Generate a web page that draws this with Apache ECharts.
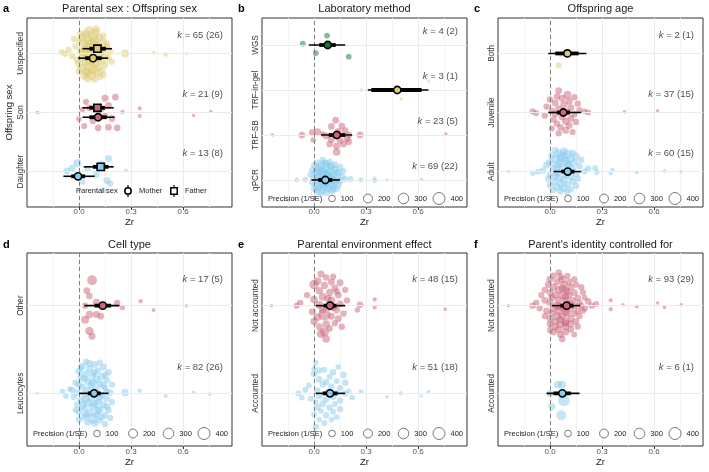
<!DOCTYPE html>
<html lang="en">
<head>
<meta charset="UTF-8">
<title>Orchard plots</title>
<script src="https://cdn.jsdelivr.net/npm/echarts@6.0.0/dist/echarts.min.js"></script>
</head>
<body style="margin:0; background:#fff">
<div id="main" style="width:709px;height:472px"></div>
<script type="text/javascript">
var BLUE = '#88CCEE', ROSE = '#CC6677', SAND = '#DDCC77', GREEN = '#117733';
var FONT = "'Liberation Sans', Arial, Helvetica, sans-serif";

// each point: [Zr, jitter around category, precision (1/SE)]
// a: parental sex : offspring sex
var catsSex = ['Daughter', 'Son', 'Unspecified'];
var kSex = [[13, 8], [21, 9], [65, 26]];
var ptsDaughter = [[-0.01,0.14,160],[-0.07,0.01,110],[-0.04,0.06,100],[0.17,0.22,110],[0.13,0.12,120],[0.27,0.02,20],[0.05,0.04,90],[0.16,-0.15,110],[0.18,-0.2,90],[0.14,-0.32,80],[0.02,-0.17,80],[0.00,-0.1,90],[0.1,-0.05,90]];
var ptsSon = [[-0.24,0.0,15],[0.76,0.02,10],[0.66,-0.05,15],[0.35,0.07,25],[0.35,-0.06,25],[0.25,0.01,30],[0.21,0.26,100],[0.15,0.24,110],[0.22,-0.26,100],[0.17,-0.25,100],[0.11,-0.26,100],[0.03,-0.23,80],[0.00,-0.11,60],[0.06,0.08,100],[0.13,0.06,80],[0.04,0.18,80],[0.17,0.12,100],[0.02,0.05,60],[0.19,-0.10,100],[0.08,-0.14,100],[0.15,-0.05,80]];
var ptsUnspecified = [[0.06,0.38,270],[0.10,0.36,140],[0.04,0.33,180],[0.08,0.31,370],[0.02,0.28,150],[0.12,0.27,120],[0.05,0.24,240],[0.00,0.22,110],[0.09,0.21,330],[0.14,0.19,140],
  [0.03,0.17,210],[0.07,0.15,420],[0.11,0.13,170],[-0.02,0.12,90],[0.16,0.11,110],[0.04,0.09,300],[0.13,0.07,150],[-0.06,0.06,90],[0.09,0.05,230],[0.01,0.04,140],
  [0.18,0.03,90],[-0.10,0.02,70],[-0.08,-0.01,70],[0.265,0.0,150],[0.43,0.01,20],[0.50,-0.02,35],[0.62,0.0,12],[0.06,-0.02,380],[0.15,-0.03,120],[-0.04,-0.04,100],
  [0.02,-0.06,200],[0.11,-0.07,270],[0.17,-0.08,90],[0.07,-0.10,360],[-0.01,-0.11,120],[0.13,-0.12,150],[0.04,-0.14,230],[0.09,-0.16,300],[0.00,-0.18,140],[0.15,-0.19,110],
  [0.06,-0.21,400],[0.11,-0.23,180],[0.02,-0.25,170],[0.08,-0.27,260],[0.13,-0.29,120],[0.04,-0.31,210],[0.10,-0.33,150],[0.07,-0.36,300],[0.03,-0.38,140],[0.12,-0.40,110],
  [0.05,-0.42,180],[0.01,0.33,120],[0.14,0.30,90],[0.06,0.10,270],[0.10,0.42,110],[0.03,0.02,240],[0.12,0.00,210],[0.08,0.18,290],[0.16,0.16,90],[-0.03,0.25,80],
  [0.05,-0.32,170],[0.09,-0.44,90],[0.14,-0.36,90],[0.00,-0.30,110],[0.19,-0.14,80]];
// [estimate, CI low, CI high, PI low, PI high] per category
var meansMother = [[-0.006,-0.045,0.035,-0.09,0.09],[0.11,0.06,0.16,0.02,0.205],[0.081,0.035,0.13,-0.005,0.168]];
var meansFather = [[0.125,0.08,0.17,0.027,0.2],[0.106,0.06,0.15,0.02,0.2],[0.106,0.06,0.155,0.02,0.19]];

// b: laboratory method
var catsMethod = ['qPCR', 'TRF-SB', 'TRF-in-gel', 'WGS'];
var kMethod = [[69, 22], [23, 5], [3, 1], [4, 2]];
var ptsQPCR = [[-0.1,0.0,40],[-0.05,0.01,60],[0.27,0.0,40],[0.35,0.03,30],[0.35,-0.02,30],[0.42,0.0,18],[0.62,0.01,18],[0.21,0.02,80],
  [0.05,0.44,100],[0.09,0.41,80],[0.02,0.38,100],[0.07,0.36,130],[0.12,0.34,100],[0.00,0.33,80],[0.04,0.31,160],[0.10,0.29,130],[0.15,0.28,100],[0.02,0.26,110],
  [0.07,0.25,240],[0.12,0.23,140],[-0.01,0.22,100],[0.05,0.20,190],[0.17,0.20,80],[0.09,0.18,160],[0.02,0.16,130],[0.14,0.15,110],[0.06,0.13,320],[-0.02,0.12,80],
  [0.11,0.11,140],[0.03,0.09,160],[0.16,0.08,100],[0.08,0.07,220],[0.00,0.05,130],[0.13,0.04,130],[0.05,0.03,240],[0.18,0.02,80],[0.10,0.01,160],[0.02,-0.01,140],
  [0.15,-0.02,100],[0.07,-0.03,290],[-0.01,-0.05,100],[0.12,-0.06,130],[0.04,-0.07,180],[0.09,-0.09,190],[0.01,-0.11,110],[0.14,-0.11,100],[0.06,-0.13,210],[0.11,-0.15,130],
  [0.03,-0.16,140],[0.08,-0.18,160],[0.00,-0.19,100],[0.13,-0.2,100],[0.05,-0.22,140],[0.10,-0.24,110],[0.02,-0.26,100],[0.07,-0.28,130],[0.04,-0.3,80],[0.09,0.32,100],
  [0.01,0.19,100],[0.13,0.17,100],[0.10,0.06,130],[0.04,0.15,140],[0.06,-0.09,160],[0.12,-0.01,130],[0.03,0.27,110],[0.08,0.1,190],[0.11,-0.21,100],[0.02,-0.21,100],[0.06,0.39,80]];
var ptsTRFSB = [[-0.24,0.0,15],[0.76,0.02,15],[-0.07,0.0,100],[-0.01,0.06,100],[-0.005,-0.11,60],[0.02,0.07,110],[0.265,0.0,110],[0.125,0.33,110],[0.1,0.19,100],[0.16,0.2,100],[0.14,0.08,110],[0.18,0.1,100],[0.2,0.0,100],[0.19,-0.08,100],[0.07,-0.02,100],[0.1,-0.1,110],[0.13,-0.25,110],[0.13,-0.38,130],[0.17,-0.2,110],[0.09,-0.2,100],[0.2,-0.15,100],[0.15,-0.12,100],[0.05,0.02,60]];
var ptsTRFgel = [[0.272,0.0,15],[0.66,0.2,15],[0.503,-0.2,18]];
var ptsWGS = [[0.075,0.21,70],[-0.065,0.03,70],[0.01,-0.18,70],[0.2,-0.26,70]];
var meansMethod = [[0.065,0.025,0.105,-0.015,0.15],[0.131,0.085,0.18,0.04,0.22],[0.48,0.33,0.62,0.31,0.66],[0.079,0.03,0.125,-0.03,0.18]];

// c: offspring age
var catsAge = ['Adult', 'Juvenile', 'Both'];
var kAge = [[60, 15], [37, 15], [2, 1]];
var ptsAdult = [[-0.24,0,15],[-0.07,0.0,70],[-0.1,-0.03,60],[0.26,0.06,70],[0.27,-0.01,60],[0.36,0.03,30],[0.35,-0.03,30],[0.5,-0.01,25],[0.66,0.01,20],[0.755,0.0,18],[0.22,0.05,90],
  [0.03,0.36,110],[0.08,0.34,150],[0.13,0.32,90],[0.05,0.30,180],[0.10,0.29,240],[0.01,0.27,110],[0.15,0.26,120],[0.07,0.25,300],[0.12,0.22,150],[0.03,0.21,140],
  [0.18,0.2,90],[0.09,0.18,180],[0.00,0.16,120],[0.14,0.15,140],[0.05,0.13,150],[-0.02,0.11,110],[0.11,0.10,120],[0.17,0.09,90],[0.07,0.07,150],[0.02,0.05,120],
  [0.13,0.04,110],[-0.04,0.02,90],[0.2,0.0,80],[0.04,-0.02,140],[0.15,-0.04,110],[0.00,-0.06,110],[0.09,-0.06,140],[0.12,-0.09,120],[0.05,-0.10,150],[-0.01,-0.12,90],
  [0.16,-0.12,90],[0.08,-0.14,140],[0.02,-0.17,120],[0.13,-0.17,110],[0.06,-0.2,150],[0.10,-0.22,110],[0.00,-0.23,90],[0.15,-0.24,90],[0.04,-0.26,120],[0.08,-0.28,140],
  [0.12,-0.3,90],[0.02,-0.31,90],[0.06,-0.33,110],[0.10,-0.35,90],[0.04,0.09,170],[0.1,0.13,140],[0.06,0.22,140],[0.11,-0.02,120],[0.03,-0.08,120]];
var ptsJuvenile = [[0.43,0.01,18],[0.62,0.03,14],[-0.1,0.02,80],[-0.08,-0.01,80],[0.22,0.0,80],[0.2,0.02,60],
  [0.05,0.37,110],[0.1,0.3,150],[0.04,0.27,90],[0.14,0.26,90],[0.07,0.24,120],[0.0,0.22,90],[0.11,0.19,110],[0.03,0.16,110],[0.16,0.15,90],[0.08,0.13,120],[-0.02,0.1,90],[0.12,0.08,110],[0.05,0.06,120],[0.17,0.04,90],[0.01,0.03,90],[0.1,0.01,110],
  [0.03,-0.02,110],[0.14,-0.03,90],[-0.03,-0.05,90],[0.07,-0.07,120],[0.12,-0.1,110],[0.02,-0.12,90],[0.09,-0.15,120],[0.15,-0.16,90],[0.04,-0.19,90],[0.11,-0.22,110],[0.06,-0.25,90],[0.01,-0.27,80],[0.09,-0.3,110],[0.05,-0.35,90],[0.13,-0.33,80]];
var ptsBoth = [[0.05,-0.2,80],[0.06,-0.02,40]];
var meansAge = [[0.102,0.065,0.14,0.02,0.18],[0.077,0.04,0.115,-0.01,0.18],[0.1,0.03,0.165,-0.01,0.21]];

// d: cell type
var catsCell = ['Leucocytes', 'Other'];
var kCell = [[82, 26], [17, 5]];
var ptsLeucocytes = [[-0.24,0,15],[-0.095,0.02,70],[-0.075,-0.03,70],[-0.055,0.05,60],[0.265,0.01,130],[0.35,0.03,30],[0.5,-0.03,25],[0.66,0.01,20],[0.755,-0.01,18],
  [0.04,0.36,90],[0.09,0.33,110],[0.02,0.31,90],[0.14,0.30,110],[0.06,0.28,120],[0.11,0.26,90],[0.00,0.25,110],[0.17,0.24,90],[0.04,0.22,140],[0.08,0.21,110],
  [0.13,0.19,120],[0.01,0.18,90],[0.10,0.16,140],[0.16,0.15,90],[0.05,0.14,150],[-0.02,0.12,90],[0.12,0.11,110],[0.19,0.10,90],[0.07,0.09,120],[0.02,0.07,110],
  [0.15,0.06,90],[-0.04,0.04,90],[0.10,0.04,140],[0.18,0.01,90],[0.03,-0.01,120],[0.13,-0.02,110],[-0.03,-0.04,90],[0.07,-0.05,150],[0.16,-0.06,90],[0.01,-0.08,110],
  [0.11,-0.09,120],[0.05,-0.11,140],[0.19,-0.10,80],[-0.01,-0.13,90],[0.14,-0.13,110],[0.08,-0.15,180],[0.03,-0.17,110],[0.12,-0.18,120],[0.17,-0.19,90],[0.00,-0.21,90],
  [0.06,-0.22,150],[0.10,-0.24,110],[0.15,-0.25,90],[0.03,-0.27,120],[0.08,-0.29,260],[0.12,-0.31,90],[0.05,-0.33,110],[0.15,-0.35,80],
  [0.06,0.34,110],[0.12,0.35,80],[0.01,0.29,80],[0.09,0.24,120],[0.15,0.21,90],[0.03,0.17,110],[0.08,0.12,170],[0.14,0.09,120],[0.00,0.10,110],[0.05,0.03,180],
  [0.09,0.00,140],[0.16,0.02,90],[-0.01,0.01,90],[0.12,-0.05,120],[0.04,-0.07,140],[0.09,-0.12,140],[0.16,-0.15,90],[0.02,-0.14,120],[0.11,-0.20,140],[-0.02,-0.19,80],
  [0.04,-0.24,120],[0.13,-0.27,90],[0.00,-0.30,90],[0.09,-0.34,110],[0.18,-0.28,80]];
var ptsOtherCell = [[0.075,0.29,260],[0.045,0.17,100],[0.06,0.11,100],[0.1,0.04,110],[0.035,0.0,80],[0.22,0.03,90],[0.25,-0.02,60],[0.355,0.05,30],[0.43,-0.05,25],[0.62,0.0,15],[0.035,-0.16,150],[0.06,-0.1,130],[0.1,-0.1,110],[0.125,-0.12,100],[0.06,-0.29,180],[0.075,-0.35,110],[0.14,0.0,60]];
var meansCell = [[0.087,0.05,0.125,0.0,0.17],[0.137,0.09,0.185,0.03,0.233]];

// e: parental environment effect
var catsEnv = ['Accounted', 'Not accounted'];
var kEnv = [[51, 18], [48, 15]];
var ptsEnvAcc = [[0.27,0.02,40],[0.42,-0.04,18],[0.5,0.0,25],[0.62,-0.03,14],[0.66,0.02,18],[-0.09,0.0,70],[-0.07,-0.05,60],[0.2,0.02,60],[0.22,-0.05,60],
  [0.01,0.35,60],[0.03,0.26,90],[0.0,0.22,90],[0.06,0.27,70],[0.11,0.24,90],[0.17,0.21,90],[0.03,0.16,100],[0.13,0.14,70],[0.18,0.12,90],[-0.03,0.09,70],
  [0.05,0.1,90],[0.1,0.08,90],[0.15,0.06,90],[-0.05,0.04,70],[0.02,0.03,90],[0.08,0.02,90],[0.18,0.0,90],[0.13,0.0,70],[0.03,-0.03,90],[0.11,-0.04,90],
  [-0.02,-0.06,70],[0.07,-0.07,90],[0.15,-0.08,90],[0.01,-0.1,60],[0.05,-0.12,100],[0.12,-0.12,70],[0.02,-0.16,90],[0.09,-0.16,90],[0.15,-0.18,90],[0.04,-0.2,60],
  [0.11,-0.21,70],[0.0,-0.24,70],[0.07,-0.25,90],[0.13,-0.27,70],[0.03,-0.3,60],[0.06,-0.34,70],[0.01,-0.38,90],[0.09,0.19,70],[0.07,0.13,90],[0.0,0.28,60],
  [0.14,0.3,60],[0.1,-0.3,60]];
var ptsEnvNot = [[-0.245,0.0,15],[0.265,0.01,100],[0.25,-0.05,60],[0.35,0.07,30],[0.35,-0.02,30],[0.757,-0.04,18],
  [0.04,0.36,110],[0.07,0.32,90],[0.02,0.28,150],[0.1,0.27,110],[0.15,0.26,110],[0.0,0.24,230],[0.06,0.23,120],[0.12,0.2,110],[0.18,0.18,90],[0.03,0.17,140],
  [0.09,0.15,120],[-0.04,0.12,90],[0.14,0.12,110],[0.05,0.1,150],[0.19,0.06,90],[0.0,0.07,140],[0.1,0.06,150],[-0.08,0.03,90],[0.15,0.02,110],[0.03,0.01,150],
  [-0.1,0.0,80],[0.06,-0.1,420],[0.13,-0.05,110],[-0.01,-0.07,110],[0.17,-0.09,90],[0.02,-0.13,140],[0.1,-0.12,110],[0.14,-0.15,110],[0.0,-0.18,120],[0.07,-0.21,140],
  [0.12,-0.2,90],[0.03,-0.24,110],[0.16,-0.24,90],[0.09,-0.26,90],[0.06,-0.3,210],[0.04,-0.32,180],[0.07,-0.38,140],[0.11,0.33,80],[0.08,0.08,120],[0.11,-0.02,140],
  [0.05,-0.04,150],[0.13,0.16,90]];
var meansEnv = [[0.092,0.05,0.135,0.01,0.18],[0.092,0.055,0.13,0.01,0.18]];

// f: parent's identity controlled for
var catsId = ['Accounted', 'Not accounted'];
var kId = [[6, 1], [93, 29]];
var ptsIdAcc = [[0.045,0.1,150],[0.07,0.1,150],[0.0,0.0,100],[0.08,-0.08,380],[0.01,-0.15,120],[0.065,-0.25,260]];
var ptsIdNot = [[-0.24,0,15],[0.266,0.02,70],[0.35,0.06,30],[0.35,-0.04,30],[0.42,0.01,18],[0.5,-0.01,25],[0.62,0.03,14],[0.66,-0.02,18],[0.757,0.01,18],[0.24,0,90],[0.22,0.05,90],[0.2,-0.03,100],[-0.1,0,90],[-0.08,0.03,90],[-0.06,-0.03,90],
  [0.05,0.38,85],[0.02,0.34,100],[0.1,0.34,85],[0.0,0.3,110],[0.07,0.3,125],[0.14,0.3,85],[0.04,0.27,110],[0.11,0.27,100],[-0.01,0.24,100],[0.08,0.24,140],
  [0.15,0.24,85],[0.02,0.21,125],[0.12,0.21,110],[0.18,0.21,85],[0.05,0.18,140],[0.09,0.18,110],[-0.03,0.18,85],[0.0,0.15,110],[0.14,0.15,100],[0.19,0.15,85],
  [0.03,0.12,125],[0.07,0.12,155],[0.11,0.12,110],[-0.05,0.12,85],[0.16,0.09,100],[0.01,0.09,110],[0.2,0.09,70],[0.05,0.06,140],[0.09,0.06,125],[0.13,0.06,110],
  [-0.03,0.06,100],[0.0,0.03,125],[0.17,0.03,85],[0.04,0.0,140],[0.14,0.0,110],[0.18,0.0,85],[0.02,-0.03,125],[0.08,-0.03,155],[0.12,-0.03,110],[-0.02,-0.06,100],
  [0.05,-0.06,140],[0.16,-0.06,100],[0.19,-0.06,70],[0.01,-0.09,110],[0.1,-0.09,125],[0.14,-0.09,100],[0.04,-0.12,140],[0.07,-0.12,125],[0.17,-0.12,85],[-0.03,-0.12,85],
  [0.0,-0.15,110],[0.12,-0.15,110],[0.03,-0.18,125],[0.09,-0.18,140],[0.15,-0.18,100],[0.06,-0.21,140],[0.0,-0.21,100],[0.12,-0.21,110],[0.03,-0.24,110],[0.09,-0.24,125],
  [0.16,-0.24,85],[0.05,-0.27,125],[0.12,-0.27,100],[0.02,-0.3,100],[0.09,-0.3,110],[0.06,-0.33,110],[0.14,-0.33,70],[0.07,-0.38,100],
  [0.06,0.33,100],[0.07,0.2,125],[0.09,0.1,125],[0.11,0.02,125],[0.06,-0.01,140],[0.09,-0.07,140],[0.06,-0.16,125],[0.09,-0.2,110],[0.1,0.16,110],[0.0,-0.28,85]];
var meansId = [[0.071,0.02,0.12,-0.02,0.17],[0.096,0.06,0.135,0.01,0.175]];

var xTicks = [0, 0.3, 0.6];
var precLegend = [100, 200, 300, 400];

var panels = [
  {letter: 'a', title: 'Parental sex : Offspring sex', yName: 'Offspring sex', cats: catsSex, colors: [BLUE, ROSE, SAND], points: [ptsDaughter, ptsSon, ptsUnspecified], k: kSex, sex: true},
  {letter: 'b', title: 'Laboratory method', cats: catsMethod, colors: [BLUE, ROSE, SAND, GREEN], points: [ptsQPCR, ptsTRFSB, ptsTRFgel, ptsWGS], k: kMethod, means: meansMethod},
  {letter: 'c', title: 'Offspring age', cats: catsAge, colors: [BLUE, ROSE, SAND], points: [ptsAdult, ptsJuvenile, ptsBoth], k: kAge, means: meansAge},
  {letter: 'd', title: 'Cell type', cats: catsCell, colors: [BLUE, ROSE], points: [ptsLeucocytes, ptsOtherCell], k: kCell, means: meansCell},
  {letter: 'e', title: 'Parental environment effect', cats: catsEnv, colors: [BLUE, ROSE], points: [ptsEnvAcc, ptsEnvNot], k: kEnv, means: meansEnv},
  {letter: 'f', title: "Parent's identity controlled for", cats: catsId, colors: [BLUE, ROSE], points: [ptsIdAcc, ptsIdNot], k: kId, means: meansId}
];

var gridLefts = [27, 262, 498], gridTops = [18, 253], gridHeights = [189, 193], gridW = 205;

function precToDiam(p) { return 1.4 + 0.53 * Math.sqrt(p); }

// thin line = prediction interval, thick = confidence interval, marker = estimate
function renderTrunk(params, api) {
  var y = api.value(1);
  var p = api.coord([api.value(0), y]);
  var cl = api.coord([api.value(2), y]), ch = api.coord([api.value(3), y]);
  var pl = api.coord([api.value(4), y]), ph = api.coord([api.value(5), y]);
  var fill = api.visual('color');
  var r = 3.6;
  var marker = api.value(6) === 1
    ? {type: 'rect', shape: {x: p[0] - r, y: p[1] - r, width: 2 * r, height: 2 * r}, style: {fill: fill, stroke: '#000', lineWidth: 1.6}}
    : {type: 'circle', shape: {cx: p[0], cy: p[1], r: r}, style: {fill: fill, stroke: '#000', lineWidth: 1.6}};
  return {type: 'group', children: [
    {type: 'line', shape: {x1: pl[0], y1: pl[1], x2: ph[0], y2: ph[1]}, style: {stroke: '#000', lineWidth: 1.6}},
    {type: 'line', shape: {x1: cl[0], y1: cl[1], x2: ch[0], y2: ch[1]}, style: {stroke: '#000', lineWidth: 3.8}},
    marker
  ]};
}

function txt(x, y, s, size, opts) {
  opts = opts || {};
  return {type: 'text', x: x, y: y, silent: true, z: 50, style: {text: s, fontSize: size, fontFamily: FONT,
    fontWeight: opts.bold ? 'bold' : 'normal', fill: opts.color || '#1a1a1a',
    textAlign: opts.align || 'left', textVerticalAlign: 'middle'}};
}

var grids = [], xAxes = [], yAxes = [], series = [], graphics = [];

panels.forEach(function (p, i) {
  var col = i % 3, row = Math.floor(i / 3);
  var L = gridLefts[col], T = gridTops[row], H = gridHeights[row];
  var n = p.cats.length;
  var ticks = p.cats.map(function (c, j) { return j + 1; });

  grids.push({left: L, top: T, width: gridW, height: H, show: true, borderColor: '#333', borderWidth: 1, backgroundColor: '#fff'});

  xAxes.push({gridIndex: i, type: 'value', min: -0.3, max: 0.882, interval: 0.3,
    name: 'Zr', nameLocation: 'middle', nameGap: row === 0 ? 9 : 11,
    nameTextStyle: {fontSize: 9.5, color: '#1a1a1a', fontFamily: FONT},
    axisLine: {show: false},
    axisTick: {show: true, length: 3, customValues: xTicks, lineStyle: {color: '#333'}},
    axisLabel: {customValues: xTicks, fontSize: 8, color: '#555', margin: row === 0 ? 1 : 2, fontFamily: FONT,
      formatter: function (v) { return v.toFixed(1); }},
    splitLine: {show: true, lineStyle: {color: '#ebebeb', width: 1}},
    minorTick: {show: false, splitNumber: 2},
    minorSplitLine: {show: true, lineStyle: {color: '#f4f4f4', width: 1}}
  });

  yAxes.push({gridIndex: i, type: 'value', min: 0.4, max: n + 0.6,
    name: p.yName || '', nameLocation: 'middle', nameRotate: 90, nameGap: 13,
    nameTextStyle: {fontSize: 9.5, color: '#1a1a1a', fontFamily: FONT},
    axisLine: {show: false},
    axisTick: {show: true, length: 3, customValues: ticks, lineStyle: {color: '#333'}},
    axisLabel: {customValues: ticks, rotate: 90, margin: 2, fontSize: 8.2, color: '#333', fontFamily: FONT,
      formatter: function (v) { return p.cats[Math.round(v) - 1] || ''; }},
    splitLine: {show: false}
  });

  // horizontal grid at each category + dashed zero line
  var marks = ticks.map(function (t) { return {yAxis: t, lineStyle: {color: '#ebebeb', width: 1, type: 'solid'}}; });
  marks.push({xAxis: 0, lineStyle: {color: '#808080', width: 1, type: [4, 3]}});

  p.points.forEach(function (arr, j) {
    var s = {type: 'scatter', xAxisIndex: i, yAxisIndex: i, silent: true,
      data: arr.map(function (d) { return [d[0], j + 1 + d[1], d[2]]; }),
      symbolSize: function (v) { return precToDiam(v[2]); },
      itemStyle: {color: p.colors[j], opacity: 0.5}};
    if (j === 0) {
      s.markLine = {silent: true, symbol: ['none', 'none'], label: {show: false}, data: marks};
    }
    series.push(s);
  });

  var trunk = [];
  if (p.sex) {
    meansMother.forEach(function (m, j) {
      trunk.push({value: [m[0], j + 1 - 0.08, m[1], m[2], m[3], m[4], 0], itemStyle: {color: p.colors[j]}});
    });
    meansFather.forEach(function (m, j) {
      trunk.push({value: [m[0], j + 1 + 0.08, m[1], m[2], m[3], m[4], 1], itemStyle: {color: p.colors[j]}});
    });
  } else {
    p.means.forEach(function (m, j) {
      trunk.push({value: [m[0], j + 1, m[1], m[2], m[3], m[4], 0], itemStyle: {color: p.colors[j]}});
    });
  }
  series.push({type: 'custom', xAxisIndex: i, yAxisIndex: i, silent: true, z: 5, renderItem: renderTrunk,
    encode: {x: 0, y: 1}, data: trunk});

  series.push({type: 'scatter', xAxisIndex: i, yAxisIndex: i, silent: true, z: 6, symbolSize: 0.1,
    itemStyle: {color: 'transparent'},
    data: p.k.map(function (kk, j) {
      return {value: [0.83, j + 1 + 0.3], label: {formatter: '{i|k} = ' + kk[0] + ' (' + kk[1] + ')'}};
    }),
    label: {show: true, position: 'left', distance: 0, fontSize: 9.5, color: '#1a1a1a', fontFamily: FONT,
      rich: {i: {fontStyle: 'italic', fontSize: 9.5, color: '#1a1a1a', fontFamily: FONT}}}
  });

  var titleY = row === 0 ? 9 : 245;
  graphics.push(txt(L + gridW / 2, titleY, p.title, 11, {align: 'center'}));
  graphics.push(txt(L - 24, titleY, p.letter, 11, {bold: true, color: '#000'}));

  if (p.sex) {
    var ly = T + H - 16;
    graphics.push(txt(L + 49, ly, 'Parental sex', 7.5));
    graphics.push({type: 'line', z: 50, shape: {x1: L + 101, y1: ly - 6, x2: L + 101, y2: ly + 6}, style: {stroke: '#000', lineWidth: 1.2}});
    graphics.push({type: 'circle', z: 51, shape: {cx: L + 101, cy: ly, r: 3.2}, style: {fill: '#fff', stroke: '#000', lineWidth: 1.5}});
    graphics.push(txt(L + 112, ly, 'Mother', 7.5));
    graphics.push({type: 'line', z: 50, shape: {x1: L + 147, y1: ly - 6, x2: L + 147, y2: ly + 6}, style: {stroke: '#000', lineWidth: 1.2}});
    graphics.push({type: 'rect', z: 51, shape: {x: L + 147 - 3.2, y: ly - 3.2, width: 6.4, height: 6.4}, style: {fill: '#fff', stroke: '#000', lineWidth: 1.5}});
    graphics.push(txt(L + 158, ly, 'Father', 7.5));
  } else {
    var py = row === 0 ? T + H - 8.5 : T + H - 12.5;
    graphics.push(txt(L + 6, py, 'Precision (1/SE)', 7.5));
    var centers = [70, 106, 141.5, 177];
    precLegend.forEach(function (v, j) {
      var r = precToDiam(v) / 2;
      graphics.push({type: 'circle', z: 50, shape: {cx: L + centers[j], cy: py, r: r}, style: {fill: '#fff', stroke: '#555', lineWidth: 0.8}});
      graphics.push(txt(L + centers[j] + r + 5.5, py, String(v), 7.5));
    });
  }
});

var chart = echarts.init(document.getElementById('main'));
chart.setOption({
  animation: false,
  backgroundColor: '#fff',
  textStyle: {fontFamily: FONT},
  grid: grids,
  xAxis: xAxes,
  yAxis: yAxes,
  series: series,
  graphic: {elements: graphics}
});
</script>
</body>
</html>
